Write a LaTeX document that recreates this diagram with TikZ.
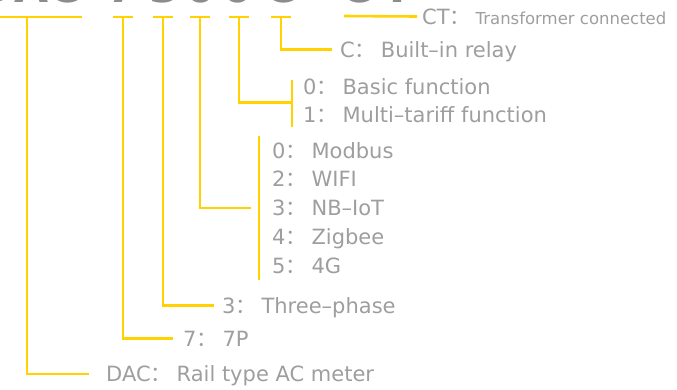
\documentclass[tikz,border=0pt]{standalone}
\usepackage{fontspec}
\setmainfont{DejaVu Sans}
\newfontfamily\cjk{Noto Sans CJK SC}
\usepackage{xcolor}
\usepackage{tikz}
\usetikzlibrary{positioning,calc}
\definecolor{pyellow}{HTML}{FFD200}
\definecolor{ptext}{HTML}{9E9E9E}
\definecolor{pcode}{HTML}{8C8C8C}
\newcommand{\cln}{{\cjk ：}\hspace{5pt}}

\begin{document}
\begin{tikzpicture}[x=1pt,y=-1pt,
    bar/.style={draw=pyellow,line width=2.6pt},
    lbl/.style={text=ptext,font=\fontsize{21}{24}\selectfont,anchor=west,
                inner sep=0pt,text height=15.5pt,text depth=0pt},
    code/.style={text=pcode,font=\fontsize{44}{44}\selectfont\bfseries,
                 anchor=base,inner sep=0pt}]
  \useasboundingbox (0,0) rectangle (677,389);
  \clip (0,0) rectangle (677,389);
  \node[code,anchor=base east] (cDAC) at (81,2.5) {DAC};
  \foreach \x/\c/\n in {123/7/p,165/3/ph,201/0/com,238/0/fn,281/C/rel,357/C/ct,398/T/ctt}
    \node[code] (c\n) at (\x,2.5) {\c};
  \node[lbl] (ct) at (422,16.5) {CT\cln{\fontsize{16.5}{18}\selectfont Transformer connected}};
  \node[lbl] (rel) at (340,49.5) {C\cln Built–in relay};
  \node[lbl] (f0) at (303,86.5) {0\cln Basic function};
  \node[lbl] (f1) at (303,115) {1\cln Multi–tariff function};
  \foreach \t [count=\i from 0] in {0\cln Modbus,2\cln WIFI,3\cln NB–IoT,4\cln Zigbee,5\cln 4G}
    \node[lbl] (m\i) at (272,150.5+28.7*\i) {\t};
  \node[lbl] (ph) at (222,305.5) {3\cln Three–phase};
  \node[lbl] (p7) at (183,338.5) {7\cln 7P};
  \node[lbl] (dac) at (106,374) {DAC\cln Rail type AC meter};
  \coordinate (t1) at (27,17);
  \draw[bar] (0,17) -- (82,17);
  \foreach \n/\x in {2/123,3/163,4/200,5/239,6/281} {
    \coordinate (t\n) at (\x,17);
    \draw[bar] (\x-10,17) -- (\x+10,17);
  }
  \draw[bar] (344,16) -- ([xshift=-5pt]ct.west);
  \draw[bar] (t1) |- ([xshift=-17pt]dac.west);
  \draw[bar] (t2) |- ([xshift=-10pt]p7.west);
  \draw[bar] (t3) |- ([xshift=-8pt]ph.west);
  \draw[bar] (t4) |- ([xshift=-21pt]m2.west);
  \coordinate (fjoin) at ($(f0.west)!0.57!(f1.west)+(-12,0)$);
  \draw[bar] (t5) |- (fjoin);
  \draw[bar] (t6) |- ([xshift=-8pt]rel.west);
  \coordinate (cr1) at (259,136);
  \coordinate (cr2) at (259,280);
  \draw[bar] (cr1) -- (cr2);
  \coordinate (fr1) at (292,80);
  \coordinate (fr2) at (292,127);
  \draw[bar] (fr1) -- (fr2);
\end{tikzpicture}
\end{document}
